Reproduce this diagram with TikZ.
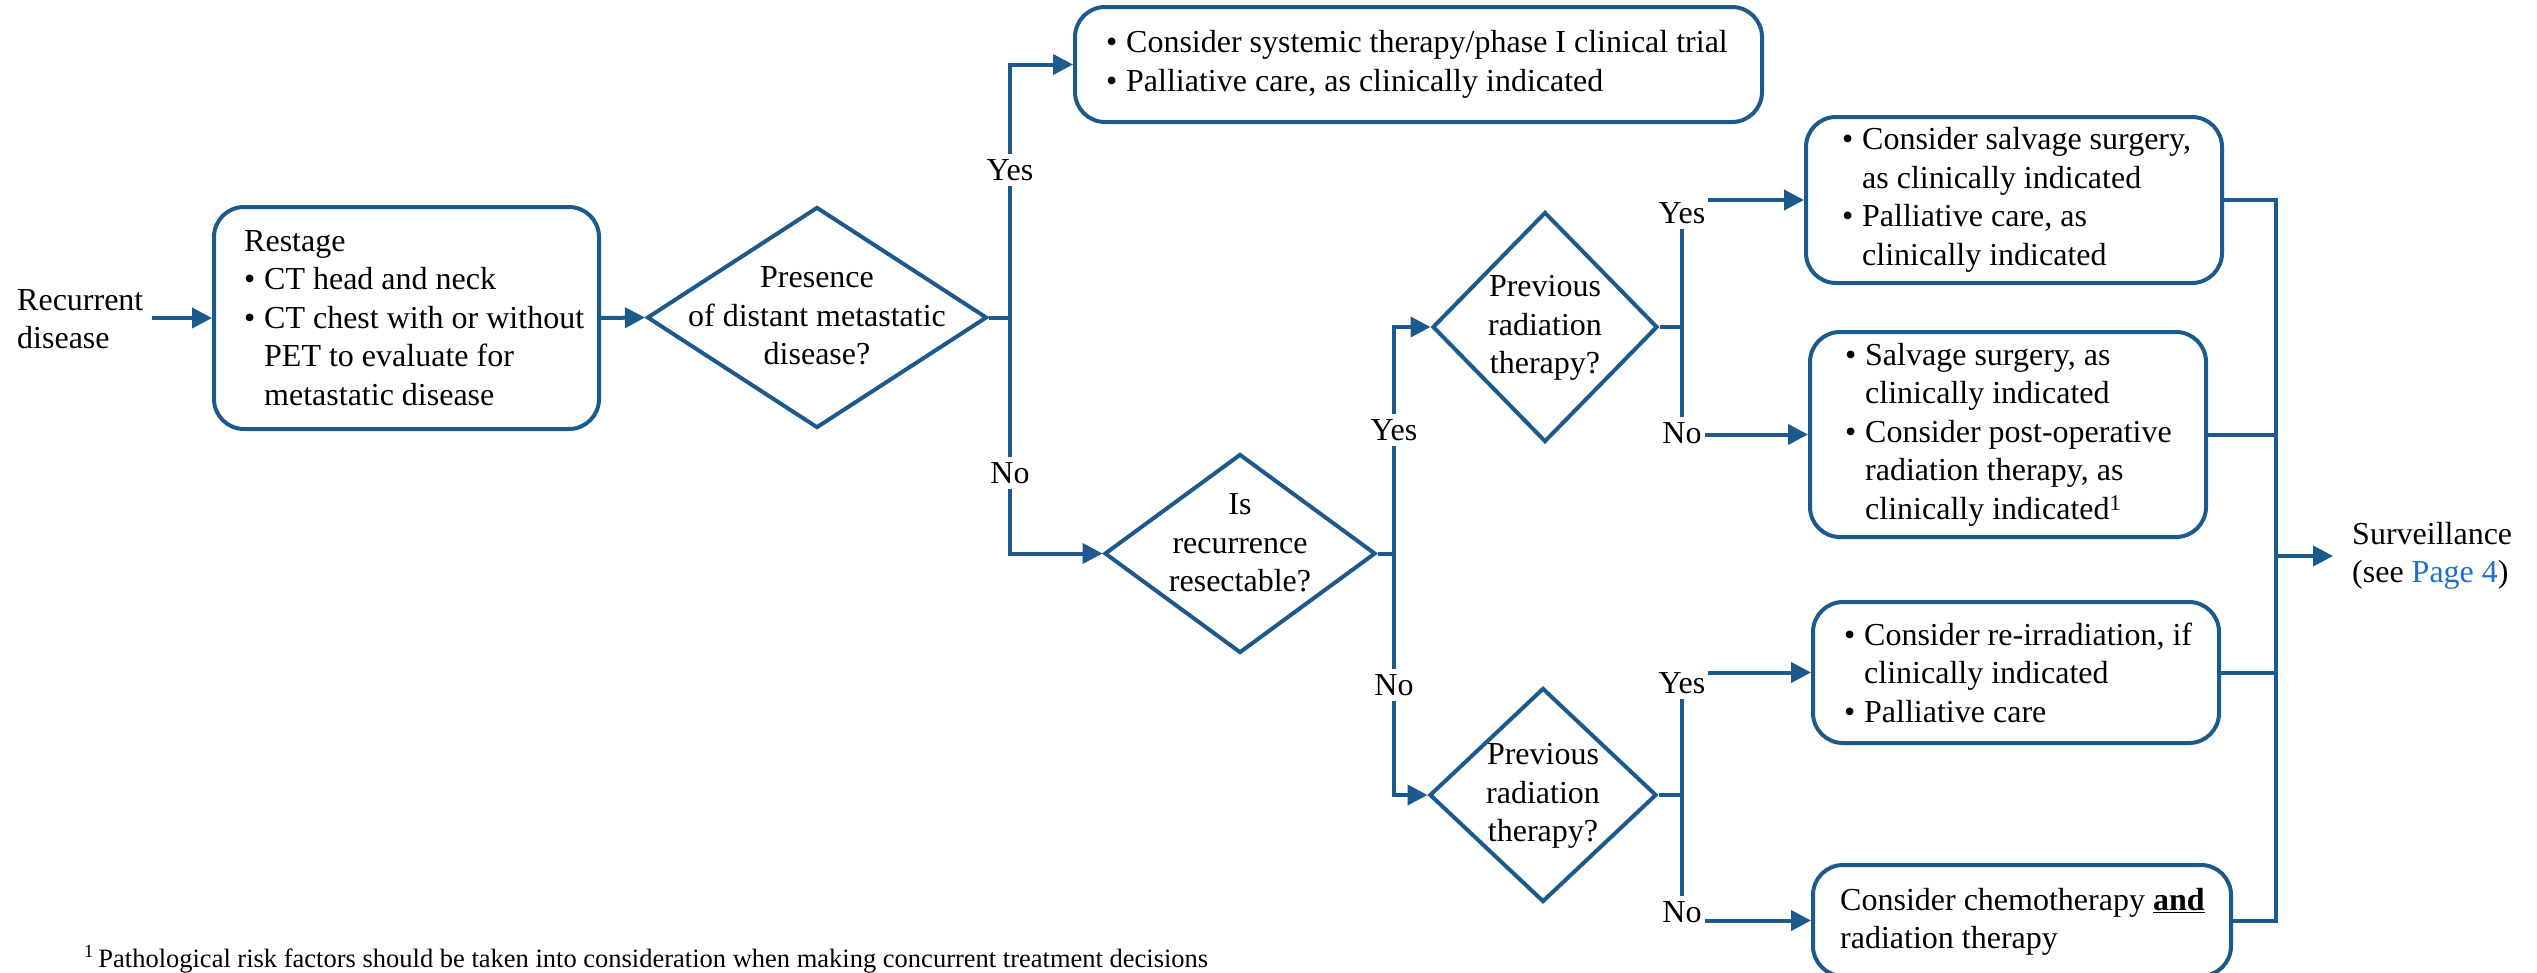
\documentclass[tikz,border=0pt]{standalone}
\usepackage{fontspec}
\setmainfont{Liberation Serif}
\usetikzlibrary{shapes.geometric,arrows.meta}
\definecolor{nccn}{RGB}{28,89,140}
\definecolor{linkblue}{RGB}{30,110,210}
\newcommand{\myfs}{\fontsize{32}{38.5}\selectfont}
\newcommand{\smallfs}{\fontsize{26.5}{31}\selectfont}
\newcommand{\bl}{\makebox[20pt][l]{\textbullet}}
\newcommand{\ind}{\hspace*{20pt}}
\tikzset{
  box/.style={draw=nccn, line width=4pt, rounded corners=30pt, inner sep=0pt},
  dia/.style={draw=nccn, line width=4pt, diamond, inner sep=0pt},
  txt/.style={align=left, inner sep=0pt, font=\myfs, anchor=west},
  ctxt/.style={align=center, inner sep=0pt, font=\myfs},
  lab/.style={fill=white, inner xsep=3pt, inner ysep=5pt, font=\myfs},
  ln/.style={draw=nccn, line width=4pt},
  arr/.style={draw=nccn, line width=4pt, -{Triangle[length=20pt,width=20pt]}},
}
\begin{document}
\begin{tikzpicture}[x=1pt,y=-1pt]
\useasboundingbox (0,0) rectangle (2537,972);

% start text
\node[txt] (rec) at (17,319) {Recurrent\\disease};

% boxes
\node[box, minimum width=385pt, minimum height=222pt] (rs) at (406.5,318) {};
\node[txt] (rst) at (244,318) {Restage\\
\bl CT head and neck\\
\bl CT chest with or without\\
\ind PET to evaluate for\\
\ind metastatic disease};

\node[box, minimum width=687pt, minimum height=115pt] (tb) at (1418.5,64.5) {};
\node[txt] (tbt) at (1106,64.5) {\bl Consider systemic therapy/phase I clinical trial\\
\bl Palliative care, as clinically indicated};

\node[box, minimum width=416pt, minimum height=166pt] (bA) at (2014,200) {};
\node[txt] (bAt) at (1842,200) {\bl Consider salvage surgery,\\
\ind as clinically indicated\\
\bl Palliative care, as\\
\ind clinically indicated};

\node[box, minimum width=396pt, minimum height=205pt] (bB) at (2008,434.5) {};
\node[txt] (bBt) at (1845,434.5) {\bl Salvage surgery, as\\
\ind clinically indicated\\
\bl Consider post-operative\\
\ind radiation therapy, as\\
\ind clinically indicated\textsuperscript{1}};

\node[box, minimum width=406pt, minimum height=141pt] (bC) at (2016,672.5) {};
\node[txt] (bCt) at (1844,672.5) {\bl Consider re-irradiation, if\\
\ind clinically indicated\\
\bl Palliative care};

\node[box, minimum width=418pt, minimum height=111pt] (bD) at (2022,920.5) {};
\node[txt] (bDt) at (1840,922) {Consider chemotherapy \underline{\textbf{and}}\\
radiation therapy};

% diamonds
\node[dia, minimum width=340pt, minimum height=221pt] (d1) at (817,317.5) {};
\node[ctxt] (d1t) at (817,316) {Presence\\of distant metastatic\\disease?};

\node[dia, minimum width=271pt, minimum height=199pt] (d2) at (1240,553.5) {};
\node[ctxt] (d2t) at (1240,543) {Is\\recurrence\\resectable?};

\node[dia, minimum width=225pt, minimum height=230pt] (d3) at (1545,327) {};
\node[ctxt] (d3t) at (1545,328) {Previous\\radiation\\therapy?};

\node[dia, minimum width=227pt, minimum height=214pt] (d4) at (1543,795) {};
\node[ctxt] (d4t) at (1543,796) {Previous\\radiation\\therapy?};

% surveillance
\node[txt] (surv) at (2352,556) {Surveillance\\(see \textcolor{linkblue}{Page 4})};

% footnote
\node[anchor=base west, inner sep=0pt, font=\smallfs] (fn) at (84,967) {\textsuperscript{1}\,Pathological risk factors should be taken into consideration when making concurrent treatment decisions};

% junctions
\coordinate (j1) at (1010,317.5);
\coordinate (j2) at (1394,553.5);
\coordinate (j3) at (1682,327);
\coordinate (j4) at (1682,795);
\coordinate (cx) at (2276,0);

% connectors
\draw[arr] ([xshift=8pt]rec.east |- rs.west) -- (rs.west);
\draw[arr] (rs.east) -- (d1.west);
\draw[ln] (d1.east) -- (j1);
\draw[arr] (j1) |- (tb.west);
\draw[arr] (j1) |- (d2.west);
\draw[ln] (d2.east) -- (j2);
\draw[arr] (j2) |- (d3.west);
\draw[arr] (j2) |- (d4.west);
\draw[ln] (d3.east) -- (j3);
\draw[arr] (j3) |- (bA.west);
\draw[arr] (j3) |- (bB.west);
\draw[ln] (d4.east) -- (j4);
\draw[arr] (j4) |- (bC.west);
\draw[arr] (j4) |- (bD.west);
\draw[ln] (bA.east) -- (bA.east -| cx) -- (bD.east -| cx) -- (bD.east);
\draw[ln] (bB.east) -- (bB.east -| cx);
\draw[ln] (bC.east) -- (bC.east -| cx);
\draw[arr] (surv.west -| cx) -- ([xshift=-19pt]surv.west);

% labels
\node[lab] (y1) at (1010,170) {Yes};
\node[lab] (n1) at (1010,473) {No};
\node[lab] (y2) at (1394,430) {Yes};
\node[lab] (n2) at (1394,685) {No};
\node[lab] (y3) at (1682,213) {Yes};
\node[lab] (n3) at (1682,433) {No};
\node[lab] (y4) at (1682,683) {Yes};
\node[lab] (n4) at (1682,912) {No};
\end{tikzpicture}
\end{document}
